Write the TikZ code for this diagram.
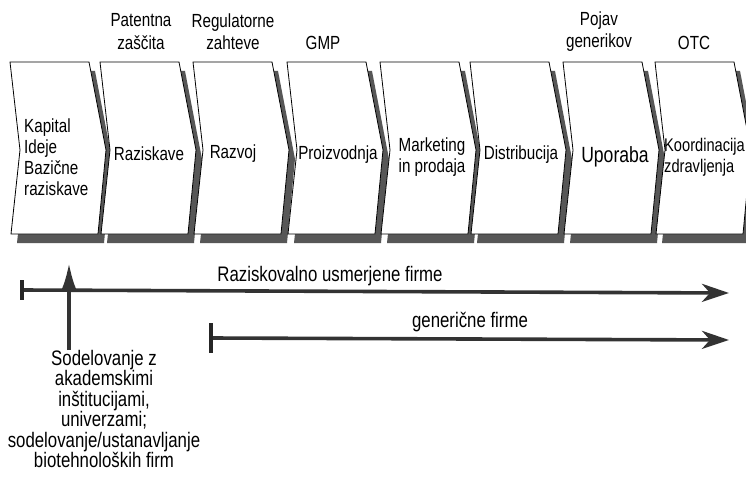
\documentclass[tikz,border=0pt]{standalone}
\usepackage{fontspec}
\setmainfont{Liberation Sans}[FakeStretch=0.8]
\usetikzlibrary{arrows.meta}
\begin{document}
\begin{tikzpicture}[x=1pt,y=-1pt,
  lbl/.style={font=\fontsize{19}{22.5}\selectfont, align=center, inner sep=0pt},
  boxtxt/.style={font=\fontsize{19}{21}\selectfont, align=center, inner sep=0pt},
  lowtxt/.style={font=\fontsize{21}{20.4}\selectfont, align=center, inner sep=0pt},
  chev/.style={draw=black, line width=0.8pt, fill=white},
  shad/.style={fill=black!66, draw=none},
  flow/.style={line width=3.6pt, draw=black!80},
  tick/.style={line width=4pt, draw=black!85},
]
\clip (0,0) rectangle (746,476);
\fill[white] (0,0) rectangle (746,476);
% shadows
\foreach \x in {10,100,193,287,380,470,563,655}{
  \begin{scope}[shift={({\x+6},9)}]
    \fill[shad] (0,62) -- (79,62) -- (96,150) -- (88,234) -- (1,234) -- (10,150) -- cycle;
  \end{scope}
}
% chevrons
\foreach \x in {10,100,193,287,380,470,563,655}{
  \begin{scope}[shift={(\x,0)}]
    \path[chev] (0,62) -- (79,62) -- (96,150) -- (88,234) -- (1,234) -- (10,150) -- cycle;
  \end{scope}
}
% top labels
\node[lbl] (p1) at (141,31.5) {Patentna\\zaščita};
\node[lbl] (p2) at (233,31.5) {Regulatorne\\zahteve};
\node[lbl] (p3) at (323,43) {GMP};
\node[lbl] (p4) at (599,31.5) {Pojav\\generikov};
\node[lbl] (p5) at (694,43) {OTC};
% box texts
\node[boxtxt, align=left, anchor=west] (t1) at (24,157) {Kapital\\Ideje\\Bazične\\raziskave};
\node[boxtxt] (t2) at (149,154) {Raziskave};
\node[boxtxt] (t3) at (233,154) {Razvoj};
\node[boxtxt] (t4) at (338,155) {Proizvodnja};
\node[boxtxt] (t5) at (432,157) {Marketing\\in prodaja};
\node[boxtxt] (t6) at (521,155) {Distribucija};
\node[boxtxt, font=\fontsize{22}{24}\selectfont] (t7) at (615,157) {Uporaba};
\node[boxtxt, align=left, anchor=west, font=\fontsize{18.3}{21}\selectfont] (t8) at (664,157) {Koordinacija\\zdravljenja};
% lower arrows
\coordinate (r0) at (22,290);
\coordinate (r1) at (729,293);
\draw[flow, -{Stealth[length=27pt,width=18pt,inset=8pt]}] (r0) -- (r1);
\draw[tick] ([yshift=10pt]r0) -- ([yshift=-10pt]r0);
\node[lowtxt] (rl) at (330,276) {Raziskovalno usmerjene firme};
\coordinate (g0) at (211,338);
\coordinate (g1) at (729,340);
\draw[flow, -{Stealth[length=27pt,width=18pt,inset=8pt]}] (g0) -- (g1);
\draw[tick] ([yshift=15pt]g0) -- ([yshift=-15pt]g0);
\node[lowtxt] (gl) at (470,322) {generične firme};
% collaboration
\node[lowtxt] (s) at (104,409) {Sodelovanje z\\akademskimi\\inštitucijami,\\univerzami;\\sodelovanje/ustanavljanje\\biotehnoloških firm};
\coordinate (up) at (69,263);
\draw[flow, -{Latex[length=28pt,width=16pt]}] (s.north -| up) -- (up);
\end{tikzpicture}
\end{document}
